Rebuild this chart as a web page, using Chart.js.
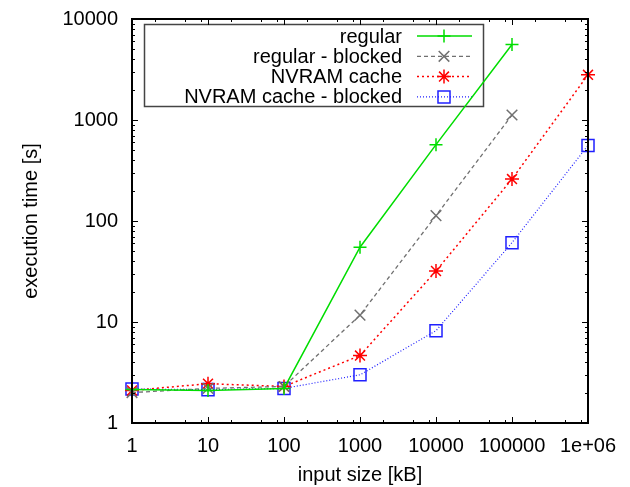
<!DOCTYPE html>
<html>
<head>
<meta charset="utf-8">
<script src="https://cdn.jsdelivr.net/npm/chart.js@4.4.1/dist/chart.umd.min.js"></script>
<style>
  html, body { margin: 0; padding: 0; background: #fff; }
  #wrap { width: 630px; height: 487px; }
</style>
</head>
<body>
<div id="wrap"><canvas id="chart" width="630" height="487"></canvas></div>
<script>
// input size [kB]
const inputSizes = [1, 10, 100, 1000, 10000, 100000, 1000000];

// execution time [s] per variant
const regular        = [2.15, 2.1, 2.2, 55, 570, 5600];
const regularBlocked = [2.0, 2.2, 2.3, 11.7, 113, 1120];
const nvramCache     = [2.1, 2.45, 2.3, 4.65, 32, 260, 2800];
const nvramBlocked   = [2.17, 2.14, 2.2, 3.0, 8.2, 61, 560];

const xTicks = [1, 10, 100, 1000, 10000, 100000, 1000000];
const yTicks = [1, 10, 100, 1000, 10000];
const xMinor = [2, 5, 8];
const yMinor = [2, 3, 4, 5, 6, 7, 8, 9];

const FONT = "'Liberation Sans', Arial, Helvetica, sans-serif";

function toPoints(values) {
    return values.map((v, i) => ({ x: inputSizes[i], y: v }));
}

function series(label, values, color, dash, style, radius, width) {
    return {
        label: label,
        data: toPoints(values),
        borderColor: color,
        backgroundColor: color,
        borderWidth: width,
        borderDash: dash,
        pointStyle: style,
        pointRadius: radius,
        pointHoverRadius: radius,
        pointBorderWidth: 1.5,
        pointBorderColor: color,
        pointBackgroundColor: 'rgba(0,0,0,0)',
        tension: 0,
        fill: false,
        clip: false
    };
}

// frame + inward ticks on all four sides, gnuplot style
const frameTicks = {
    id: 'frameTicks',
    afterDatasetsDraw(chart) {
        const { ctx, chartArea: a, scales } = chart;
        const x = scales.x, y = scales.y;
        ctx.save();
        ctx.strokeStyle = '#000';
        ctx.lineWidth = 1;
        ctx.beginPath();
        const xMark = (v, len) => {
            const px = Math.round(x.getPixelForValue(v)) + 0.5;
            ctx.moveTo(px, a.bottom); ctx.lineTo(px, a.bottom - len);
            ctx.moveTo(px, a.top); ctx.lineTo(px, a.top + len);
        };
        const yMark = (v, len) => {
            const py = Math.round(y.getPixelForValue(v)) + 0.5;
            ctx.moveTo(a.left, py); ctx.lineTo(a.left + len, py);
            ctx.moveTo(a.right, py); ctx.lineTo(a.right - len, py);
        };
        xTicks.forEach(d => {
            xMark(d, 6);
            if (d < x.max) xMinor.forEach(m => xMark(d * m, 3));
        });
        yTicks.forEach(d => {
            yMark(d, 6);
            if (d < y.max) yMinor.forEach(m => yMark(d * m, 3));
        });
        ctx.stroke();
        ctx.lineWidth = 2;
        ctx.strokeRect(a.left, a.top, a.right - a.left, a.bottom - a.top);
        ctx.restore();
    }
};

// key box in the upper left, text right-aligned, sample line with marker
const keyBox = {
    id: 'keyBox',
    beforeDatasetsDraw(chart) {
        const ctx = chart.ctx;
        ctx.save();
        ctx.strokeStyle = '#444';
        ctx.lineWidth = 1.5;
        ctx.strokeRect(144.5, 24.5, 339, 82);
        ctx.font = '20px ' + FONT;
        ctx.textAlign = 'right';
        ctx.textBaseline = 'middle';
        chart.data.datasets.forEach((ds, i) => {
            const yy = 36 + i * 20.3;
            ctx.fillStyle = '#000';
            ctx.fillText(ds.label, 402, yy + 1);
            ctx.strokeStyle = ds.borderColor;
            ctx.lineWidth = ds.borderWidth;
            ctx.setLineDash(ds.borderDash);
            ctx.beginPath();
            ctx.moveTo(417, yy); ctx.lineTo(472, yy);
            ctx.stroke();
            ctx.setLineDash([]);
            ctx.lineWidth = ds.pointBorderWidth;
            ctx.fillStyle = 'rgba(0,0,0,0)';
            Chart.helpers.drawPoint(ctx, {
                pointStyle: ds.pointStyle,
                radius: ds.pointRadius,
                rotation: 0,
                borderWidth: ds.pointBorderWidth
            }, 444, yy);
        });
        ctx.restore();
    }
};

new Chart(document.getElementById('chart'), {
    type: 'line',
    data: {
        datasets: [
            series('regular', regular, '#00dd00', [], 'cross', 6.5, 1.5),
            series('regular - blocked', regularBlocked, '#707070', [4, 3], 'crossRot', 7.5, 1.3),
            series('NVRAM cache', nvramCache, '#ff0000', [2, 3], 'star', 7, 1.5),
            series('NVRAM cache - blocked', nvramBlocked, '#2020ff', [1, 2], 'rect', 8.5, 1.2)
        ]
    },
    options: {
        responsive: false,
        animation: false,
        devicePixelRatio: 1,
        layout: { padding: { top: 19, right: 42, left: 0, bottom: 0 } },
        plugins: {
            legend: { display: false },
            tooltip: { enabled: false }
        },
        scales: {
            x: {
                type: 'logarithmic',
                min: 1,
                max: 1000000,
                grid: { display: false, drawTicks: false },
                border: { display: false },
                afterBuildTicks: s => { s.ticks = xTicks.map(v => ({ value: v })); },
                afterFit: s => {
                    s.height = 64;
                    s.paddingLeft = 0;
                    s.paddingRight = 0;
                },
                ticks: {
                    autoSkip: false,
                    maxRotation: 0,
                    padding: 11,
                    color: '#000',
                    font: { family: FONT, size: 20 },
                    callback: v => (v === 1000000 ? '1e+06' : String(v))
                },
                title: {
                    display: true,
                    text: 'input size [kB]',
                    color: '#000',
                    font: { family: FONT, size: 20 },
                    padding: { top: 0, bottom: 0 }
                }
            },
            y: {
                type: 'logarithmic',
                min: 1,
                max: 10000,
                grid: { display: false, drawTicks: false },
                border: { display: false },
                afterBuildTicks: s => { s.ticks = yTicks.map(v => ({ value: v })); },
                afterFit: s => {
                    s.width = 132;
                    s.paddingTop = 0;
                    s.paddingBottom = 0;
                },
                ticks: {
                    autoSkip: false,
                    padding: 14,
                    color: '#000',
                    font: { family: FONT, size: 20 },
                    callback: v => String(v)
                },
                title: {
                    display: true,
                    text: 'execution time [s]',
                    color: '#000',
                    font: { family: FONT, size: 20 },
                    padding: { top: 19, bottom: 0 }
                }
            }
        }
    },
    plugins: [frameTicks, keyBox]
});
</script>
</body>
</html>
